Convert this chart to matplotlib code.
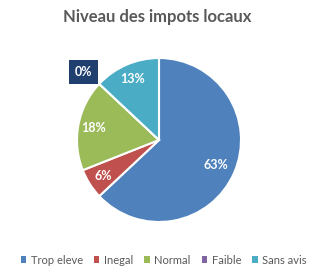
import numpy as np
import matplotlib
matplotlib.use("Agg")
import matplotlib.pyplot as plt
from matplotlib.patches import Patch

plt.rcParams['font.family'] = ['Lato', 'DejaVu Sans']

categories = ["Trop eleve", "Inegal", "Normal", "Faible", "Sans avis"]
values = [63, 6, 18, 0, 13]
colors = ["#4F81BD", "#C0504D", "#9BBB59", "#8064A2", "#4BACC6"]
title = "Niveau des impots locaux"
text_grey = "#595959"

W, H = 315, 275
fig = plt.figure(figsize=(W / 100, H / 100), dpi=100)

# pie centre ~ (159, 140) px from top-left, radius ~82 px
cx, cy, r = 159, 140, 82
ax = fig.add_axes([(cx - r) / W, (H - cy - r) / H, 2 * r / W, 2 * r / H])
wedges, _ = ax.pie(values, colors=colors, startangle=90, counterclock=False,
                   wedgeprops=dict(edgecolor="white", linewidth=1.5))
ax.set_xlim(-1, 1)
ax.set_ylim(-1, 1)
ax.set_aspect("auto")

total = sum(values)
for w, v in zip(wedges, values):
    ang = np.deg2rad((w.theta1 + w.theta2) / 2)
    if v == 0:
        ax.text(-0.92, 0.83, "0%", ha="center", va="center", color="white",
                fontsize=9, fontweight="bold",
                bbox=dict(boxstyle="square,pad=0.45", fc="#1F3F6E", ec="none"))
        continue
    d = 0.76 if v > 50 else 0.81
    ax.text(d * np.cos(ang), d * np.sin(ang), "%d%%" % round(100 * v / total),
            ha="center", va="center", color="white", fontsize=9, fontweight="bold")

fig.text(0.5, 1 - 17 / H, title, ha="center", va="center", fontsize=12,
         fontweight="bold", color=text_grey)

handles = [Patch(facecolor=c, edgecolor="none") for c in colors]
fig.legend(handles, categories, loc="center", bbox_to_anchor=(0.52, 1 - 260 / H),
           ncol=5, frameon=False, fontsize=8, labelcolor=text_grey,
           handlelength=0.5, handleheight=0.5, handletextpad=0.4, columnspacing=1.0)

fig.savefig("out.png", dpi=100)
